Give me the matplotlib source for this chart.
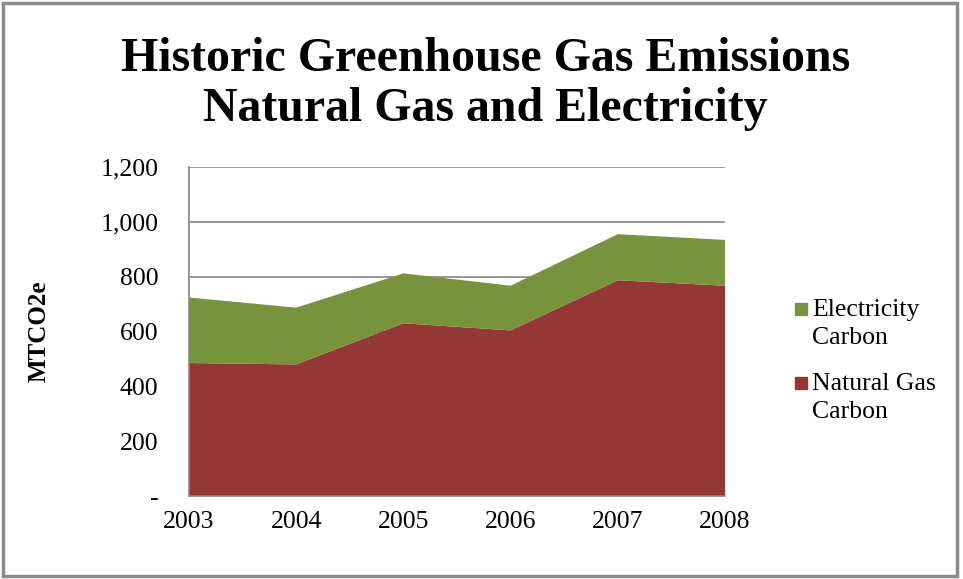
import matplotlib.pyplot as plt
from matplotlib.patches import Rectangle
from matplotlib.ticker import FuncFormatter

plt.rcParams['font.family'] = ['Liberation Serif', 'DejaVu Serif']

# emissions by year (MTCO2e)
years = [2003, 2004, 2005, 2006, 2007, 2008]
natural_gas = [485, 480, 630, 604, 787, 767]
electricity = [239, 207, 182, 163, 168, 167]

series_labels = ['Natural Gas\nCarbon', 'Electricity\nCarbon']
series_colors = ['#953735', '#77933C']
grid_color = '#878787'

fig = plt.figure(figsize=(9.63, 5.79), dpi=100)
ax = fig.add_axes([189 / 963, 1 - 496 / 579, 536 / 963, 329 / 579])

ax.stackplot(years, natural_gas, electricity, colors=series_colors,
             linewidth=0, zorder=2)

ax.set_xlim(years[0], years[-1])
ax.set_ylim(0, 1200)
ax.set_xticks(years)
ax.set_yticks(range(0, 1201, 200))
ax.yaxis.set_major_formatter(FuncFormatter(lambda v, p: '-' if v == 0 else f'{int(v):,}'))
ax.grid(axis='y', color=grid_color, linewidth=1.2, zorder=0)
ax.set_axisbelow(True)
ax.tick_params(axis='both', length=0, labelsize=18.5)
ax.tick_params(axis='y', pad=22)
ax.tick_params(axis='x', pad=11)

for side in ['top', 'right']:
    ax.spines[side].set_visible(False)
for side in ['left', 'bottom']:
    ax.spines[side].set_color(grid_color)
    ax.spines[side].set_linewidth(1.2)

ax.set_ylabel('MTCO2e', fontsize=18, fontweight='bold')
ax.yaxis.set_label_coords(-0.259, 0.5)

# title, two lines
fig.text(0.504, 1 - 71 / 579, 'Historic Greenhouse Gas Emissions',
         ha='center', va='baseline', fontsize=34.5, fontweight='bold')
fig.text(0.504, 1 - 121 / 579, 'Natural Gas and Electricity',
         ha='center', va='baseline', fontsize=34.5, fontweight='bold')

# legend on the right, electricity first
legend_rows = [(1, 309), (0, 383)]
for idx, y_px in legend_rows:
    fig.patches.append(Rectangle((795 / 963, 1 - (y_px + 6) / 579), 12 / 963, 12 / 579,
                                 transform=fig.transFigure, color=series_colors[idx]))
    fig.text(812 / 963, 1 - (y_px - 10) / 579, series_labels[idx], ha='left', va='top',
             fontsize=18.5, linespacing=1.33)

# chart border
fig.patches.append(Rectangle((3 / 963, 3 / 579), 954 / 963, 573 / 579,
                             transform=fig.transFigure, fill=False,
                             edgecolor='#8c8c8c', linewidth=2.5))

fig.savefig('out.png', dpi=100)
